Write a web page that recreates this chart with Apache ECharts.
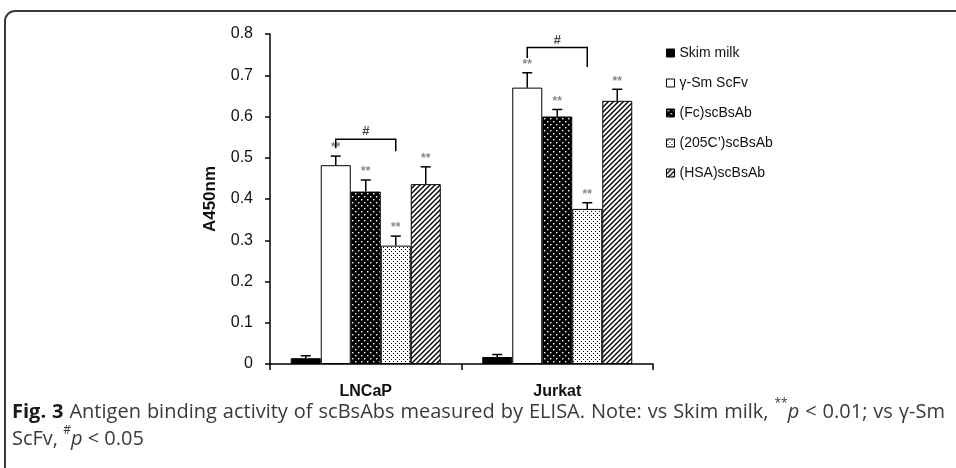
<!DOCTYPE html>
<html>
<head>
<meta charset="utf-8">
<script src="https://cdn.jsdelivr.net/npm/echarts@6/dist/echarts.min.js"></script>
<style>
html,body{margin:0;padding:0;background:#fff;}
#chart{width:956px;height:468px;}
</style>
</head>
<body>
<div id="chart"></div>
<script>
// ---------- data ----------
const categories = ['LNCaP', 'Jurkat'];
const seriesNames = ['Skim milk', 'γ-Sm ScFv', '(Fc)scBsAb', '(205C’)scBsAb', '(HSA)scBsAb'];
const skimMilk   = [0.014, 0.017];
const gammaSm    = [0.482, 0.670];
const fcBsAb     = [0.418, 0.600];
const c205BsAb   = [0.287, 0.376];
const hsaBsAb    = [0.436, 0.638];
const skimMilkErr = [0.006, 0.006];
const gammaSmErr  = [0.022, 0.036];
const fcBsAbErr   = [0.028, 0.017];
const c205BsAbErr = [0.023, 0.015];
const hsaBsAbErr  = [0.042, 0.028];
const starred = [false, true, true, true, true];       // ** vs Skim milk
const bracketFrom = [1, 1];                             // γ-Sm ScFv
const bracketTo   = [3, 3];                             // (205C')scBsAb
const bracketTop  = [0.545, 0.767];
const bracketLeftEnd  = [0.523, 0.742];
const bracketRightEnd = [0.516, 0.720];
const yTicks = [0, 0.1, 0.2, 0.3, 0.4, 0.5, 0.6, 0.7, 0.8];

const means = [skimMilk, gammaSm, fcBsAb, c205BsAb, hsaBsAb];
const errs  = [skimMilkErr, gammaSmErr, fcBsAbErr, c205BsAbErr, hsaBsAbErr];

// ---------- patterns ----------
function mk(w, h, draw) {
  const c = document.createElement('canvas'); c.width = w; c.height = h;
  const g = c.getContext('2d'); draw(g, w, h); return c;
}
const patFc = mk(6, 6, (g) => {
  g.fillStyle = '#000'; g.fillRect(0, 0, 6, 6);
  g.fillStyle = '#fff'; g.fillRect(1, 1, 1.4, 1.4); g.fillRect(4, 4, 1.4, 1.4);
});
const pat205 = mk(4, 4, (g) => {
  g.fillStyle = '#fff'; g.fillRect(0, 0, 4, 4);
  g.fillStyle = '#000'; g.fillRect(1, 1, 1, 1); g.fillRect(3, 3, 1, 1);
});
const patHsa = mk(5, 5, (g) => {
  g.fillStyle = '#fff'; g.fillRect(0, 0, 5, 5);
  g.strokeStyle = '#000'; g.lineWidth = 1.4;
  g.beginPath();
  g.moveTo(-1, 6); g.lineTo(6, -1);
  g.moveTo(-1, 1); g.lineTo(1, -1);
  g.moveTo(4, 6); g.lineTo(6, 4);
  g.stroke();
});
const fills = ['#000', '#fff', { image: patFc, repeat: 'repeat' }, { image: pat205, repeat: 'repeat' }, { image: patHsa, repeat: 'repeat' }];

const BAR_W = 30;

const chart = echarts.init(document.getElementById('chart'), null, { renderer: 'canvas' });

const barSeries = seriesNames.map((name, i) => ({
  name, type: 'bar', data: means[i], barWidth: BAR_W, barGap: '0%',
  itemStyle: { color: fills[i], borderColor: '#000', borderWidth: 1 },
  emphasis: { disabled: true }, z: 2
}));

const errData = [];
means.forEach((arr, s) => arr.forEach((m, c) => errData.push([c, s, m, errs[s][c], starred[s] ? 1 : 0])));
const bracketData = categories.map((_, c) => [c, bracketFrom[c], bracketTo[c], bracketTop[c], bracketLeftEnd[c], bracketRightEnd[c]]);

const errSeries = {
  type: 'custom', name: 'err', z: 5, silent: true,
  encode: { x: 0, y: 2 },
  data: errData,
  renderItem: (params, api) => {
    const c = api.value(0), s = api.value(1), m = api.value(2), e = api.value(3), st = api.value(4);
    const b = api.coord([c, m]), t = api.coord([c, m + e]);
    const x = b[0] + (s - 2) * BAR_W;
    const ls = { stroke: '#000', lineWidth: 1.5 };
    const ch = [
      { type: 'line', shape: { x1: x, y1: b[1], x2: x, y2: t[1] }, style: ls },
      { type: 'line', shape: { x1: x - 5, y1: t[1], x2: x + 5, y2: t[1] }, style: ls }
    ];
    if (st) ch.push({ type: 'text', x: x, y: t[1] - 2, style: { text: '**', fill: '#888', font: 'bold 12px "Liberation Sans"', align: 'center', verticalAlign: 'bottom' } });
    return { type: 'group', children: ch };
  }
};
const bracketSeries = {
  type: 'custom', name: 'bracket', z: 5, silent: true,
  encode: { x: 0, y: 3 },
  data: bracketData,
  renderItem: (params, api) => {
    const c = api.value(0), f = api.value(1), to = api.value(2);
    const top = api.coord([c, api.value(3)]);
    const le = api.coord([c, api.value(4)]);
    const re = api.coord([c, api.value(5)]);
    const x1 = top[0] + (f - 2) * BAR_W, x2 = top[0] + (to - 2) * BAR_W;
    const ls = { stroke: '#000', lineWidth: 1.5, fill: null };
    return { type: 'group', children: [
      { type: 'polyline', shape: { points: [[x1, le[1]], [x1, top[1]], [x2, top[1]], [x2, re[1]]] }, style: ls },
      { type: 'text', x: (x1 + x2) / 2, y: top[1] - 1, style: { text: '#', fill: '#444', font: 'bold 13px "Liberation Sans"', align: 'center', verticalAlign: 'bottom' } }
    ] };
  }
};

// ---------- caption (justified line 1) ----------
const line1 = [[['Fig.', 'b']], [['3', 'b']], [['Antigen', 'n']], [['binding', 'n']], [['activity', 'n']], [['of', 'n']],
  [['scBsAbs', 'n']], [['measured', 'n']], [['by', 'n']], [['ELISA.', 'n']], [['Note:', 'n']], [['vs', 'n']],
  [['Skim', 'n']], [['milk,', 'n']], [['**', 's'], ['p', 'i']], [['<', 'n']], [['0.01;', 'n']], [['vs', 'n']], [['γ-Sm', 'n']]];
const line2 = [[['ScFv,', 'n']], [['#', 's'], ['p', 'i']], [['<', 'n']], [['0.05', 'n']]];
const mctx = document.createElement('canvas').getContext('2d');
let fonts;
function setFonts(FS) {
  fonts = {
    n: { font: FS + 'px "Open Sans"', fill: '#3a3a3a', dy: 0 },
    b: { font: 'bold ' + FS + 'px "Open Sans"', fill: '#1a1a1a', dy: 0 },
    i: { font: 'italic ' + FS + 'px "Open Sans"', fill: '#3a3a3a', dy: 0 },
    s: { font: Math.round(FS * 0.62) + 'px "Open Sans"', fill: '#3a3a3a', dy: -FS * 0.42 }
  };
}
function pw(p) { mctx.font = fonts[p[1]].font; return mctx.measureText(p[0]).width; }
function natural(words) {
  const ws = words.reduce((a, w) => a + w.reduce((b, p) => b + pw(p), 0), 0);
  mctx.font = fonts.n.font;
  return ws + mctx.measureText(' ').width * (words.length - 1);
}
let FS = 14;
for (let f = 14; f <= 24; f += 0.25) { setFonts(f); if (natural(line1) <= 925) FS = f; }
setFonts(FS);
function layoutLine(words, x0, x1, y, justify) {
  const ws = words.map(w => w.reduce((a, p) => a + pw(p), 0));
  const total = ws.reduce((a, b) => a + b, 0);
  mctx.font = fonts.n.font;
  const sp = justify ? (x1 - x0 - total) / (words.length - 1) : mctx.measureText(' ').width;
  const els = [];
  let x = x0;
  words.forEach((w, k) => {
    let xx = x;
    w.forEach(p => {
      const f = fonts[p[1]];
      els.push({ type: 'text', x: xx, y: y + f.dy, style: { text: p[0], font: f.font, fill: f.fill, align: 'left', verticalAlign: 'middle' } });
      xx += pw(p);
    });
    x += ws[k] + sp;
  });
  return els;
}
const captionEls = layoutLine(line1, 12, 945, 412, true).concat(layoutLine(line2, 12, 945, 439, false));

chart.setOption({
  animation: false,
  backgroundColor: '#fff',
  grid: { left: 270, right: 303, top: 34, bottom: 104 },
  legend: {
    data: seriesNames, orient: 'vertical', left: 661, top: 41, icon: 'rect',
    itemWidth: 8, itemHeight: 8, itemGap: 16, selectedMode: false,
    textStyle: { fontFamily: 'Liberation Sans', fontSize: 14, color: '#111', lineHeight: 14 },
    itemStyle: { borderColor: '#000', borderWidth: 1 }
  },
  xAxis: {
    type: 'category', data: categories,
    axisLine: { lineStyle: { color: '#000', width: 1.5 } },
    axisTick: { show: true, alignWithLabel: false, length: 6, interval: 0, lineStyle: { color: '#000', width: 1.5 } },
    axisLabel: { margin: 20, fontFamily: 'Liberation Sans', fontWeight: 'bold', fontSize: 16, color: '#111' }
  },
  yAxis: {
    type: 'value', min: 0, max: 0.8, interval: 0.1,
    name: 'A450nm', nameLocation: 'middle', nameGap: 51, nameRotate: 90,
    nameTextStyle: { fontFamily: 'Liberation Sans', fontWeight: 'bold', fontSize: 17, color: '#111' },
    axisLine: { show: true, lineStyle: { color: '#000', width: 1.5 } },
    axisTick: { show: true, length: 5, lineStyle: { color: '#000', width: 1.5 } },
    splitLine: { show: false },
    axisLabel: { margin: 17, fontFamily: 'Liberation Sans', fontSize: 16, color: '#111',
      formatter: v => { const t = yTicks.find(k => Math.abs(k - v) < 1e-9); return t === 0 ? '0' : (t !== undefined ? t.toFixed(1) : ''); } }
  },
  series: barSeries.concat([errSeries, bracketSeries]),
  graphic: [
    { type: 'rect', shape: { x: 5, y: 11, width: 1000, height: 500, r: 10 }, style: { fill: null, stroke: '#3a3a3a', lineWidth: 2 }, silent: true, z: 100 }
  ].concat(captionEls.map(e => Object.assign(e, { silent: true, z: 100 })))
});
</script>
</body>
</html>
